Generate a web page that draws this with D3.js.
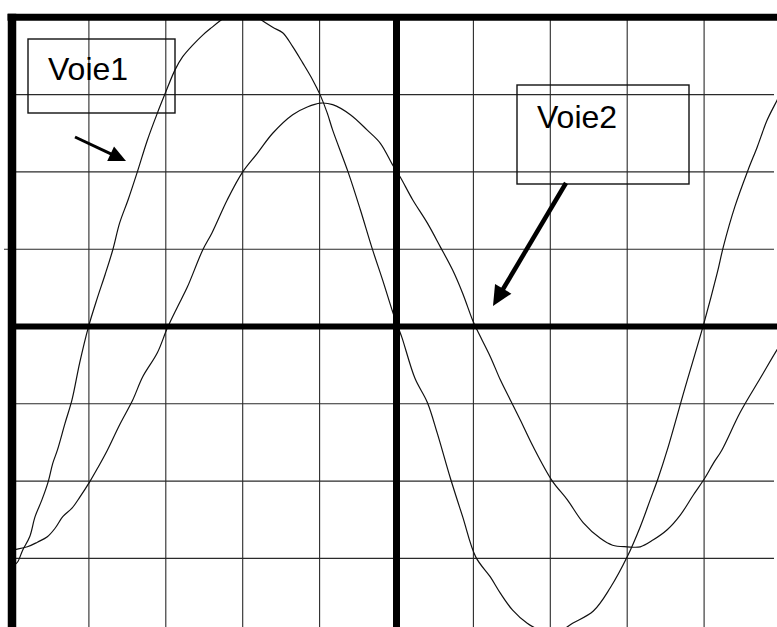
<!DOCTYPE html>
<html>
<head>
<meta charset="utf-8">
<script src="https://cdn.jsdelivr.net/npm/d3@7"></script>
<style>
  html, body { margin: 0; padding: 0; background: #fff; }
  svg { display: block; }
</style>
</head>
<body>
<svg id="scope" width="777" height="627"></svg>
<script>
// Oscilloscope screen: time and voltage both expressed in divisions.
const timeDivs = [0, 1, 2, 3, 4, 5, 6, 7, 8, 9, 10];
const voltDivs = [-4, -3, -2, -1, 0, 1, 2, 3, 4];

// Channel 1 trace (t in div, v in div)
const voie1T = [0, 0.07, 0.14, 0.23, 0.30, 0.39, 0.47, 0.53, 0.59, 0.69, 0.78, 0.88, 0.99, 1.11, 1.21, 1.31, 1.40, 1.51, 1.63, 1.76, 1.89, 1.99, 2.12, 2.22, 2.35, 2.48, 2.60, 2.74, 2.86, 2.99, 3.11, 3.22, 3.39, 3.52, 3.65, 3.78, 3.91, 4.01, 4.10, 4.17, 4.37, 4.53, 4.68, 4.82, 4.95, 5.01, 5.07, 5.24, 5.40, 5.53, 5.70, 5.86, 6.03, 6.22, 6.35, 6.51, 6.70, 6.87, 7.01, 7.15, 7.29, 7.56, 7.78, 8.00, 8.17, 8.30, 8.40, 8.52, 8.75, 9.00, 9.17, 9.25, 9.40, 9.57, 9.69, 9.82, 9.95, 9.99];
const voie1V = [-3.11, -3.05, -2.89, -2.72, -2.46, -2.24, -2.01, -1.77, -1.60, -1.25, -0.95, -0.47, -0.02, 0.37, 0.67, 0.99, 1.34, 1.64, 2.00, 2.41, 2.76, 3.01, 3.32, 3.49, 3.64, 3.77, 3.87, 3.98, 4.07, 4.11, 4.07, 3.98, 3.87, 3.80, 3.62, 3.41, 3.19, 2.99, 2.76, 2.54, 2.00, 1.51, 1.02, 0.60, 0.19, 0.02, -0.14, -0.67, -0.98, -1.38, -1.96, -2.46, -2.98, -3.24, -3.45, -3.67, -3.84, -3.93, -3.97, -3.93, -3.84, -3.68, -3.38, -2.98, -2.59, -2.24, -1.97, -1.60, -0.80, 0.05, 0.69, 1.03, 1.55, 2.02, 2.32, 2.67, 2.93, 3.02];

// Channel 2 trace (t in div, v in div)
const voie2T = [0, 0.07, 0.20, 0.33, 0.46, 0.56, 0.66, 0.78, 0.88, 1.01, 1.12, 1.24, 1.40, 1.57, 1.70, 1.89, 2.02, 2.15, 2.28, 2.48, 2.60, 2.80, 3.00, 3.19, 3.39, 3.65, 3.84, 4.01, 4.17, 4.40, 4.62, 4.79, 4.95, 5.05, 5.21, 5.40, 5.57, 5.73, 5.86, 5.99, 6.05, 6.22, 6.35, 6.48, 6.61, 6.78, 7.02, 7.22, 7.43, 7.65, 7.81, 8.00, 8.17, 8.34, 8.52, 8.69, 8.86, 9.01, 9.12, 9.23, 9.47, 9.73, 9.95, 9.99];
const voie2V = [-2.89, -2.88, -2.85, -2.79, -2.72, -2.61, -2.46, -2.35, -2.21, -2.01, -1.82, -1.60, -1.27, -0.95, -0.65, -0.34, -0.02, 0.25, 0.51, 0.99, 1.21, 1.64, 2.00, 2.24, 2.50, 2.74, 2.84, 2.89, 2.87, 2.74, 2.54, 2.37, 2.09, 1.93, 1.64, 1.34, 1.03, 0.73, 0.43, 0.08, -0.05, -0.39, -0.69, -0.95, -1.21, -1.56, -1.99, -2.24, -2.54, -2.74, -2.83, -2.85, -2.85, -2.76, -2.63, -2.44, -2.18, -1.96, -1.77, -1.60, -1.11, -0.67, -0.30, -0.24];

// Channel labels
const channelNames = ["Voie1", "Voie2"];

const W = 777, H = 627;
const svg = d3.select("#scope");

const x = d3.scaleLinear().domain([0, 10]).range([12, 781]);
const y = d3.scaleLinear().domain([-4, 4]).range([635.7, 17.3]);

const ink = "#111";

// thin graticule
const grid = svg.append("g").attr("stroke", "#2a2a2a").attr("stroke-width", 1.1);
grid.selectAll("line.v")
  .data(timeDivs.filter(d => d !== 0 && d !== 5))
  .join("line")
  .attr("x1", d => x(d)).attr("x2", d => x(d))
  .attr("y1", y(4)).attr("y2", H);
grid.selectAll("line.h")
  .data(voltDivs.filter(d => d !== 0 && d !== 4))
  .join("line")
  .attr("x1", d => d === 1 ? 4 : x(0)).attr("x2", 774)
  .attr("y1", d => y(d)).attr("y2", d => y(d));

// traces, clipped to the screen area
svg.append("clipPath").attr("id", "screen")
  .append("rect")
  .attr("x", x(0)).attr("y", y(4))
  .attr("width", W - x(0)).attr("height", H - y(4));

const line = d3.line()
  .x(d => x(d[0]))
  .y(d => y(d[1]))
  .curve(d3.curveCatmullRom.alpha(0.5));

const traces = [d3.zip(voie1T, voie1V), d3.zip(voie2T, voie2V)];
svg.append("g").attr("clip-path", "url(#screen)")
  .selectAll("path")
  .data(traces)
  .join("path")
  .attr("d", line)
  .attr("fill", "none")
  .attr("stroke", ink)
  .attr("stroke-width", 1.2)
  .attr("stroke-linejoin", "round");

// heavy border and centre axes
const heavy = svg.append("g").attr("stroke", "#000");
heavy.append("line") // top border
  .attr("x1", 7.5).attr("x2", W).attr("y1", y(4)).attr("y2", y(4))
  .attr("stroke-width", 7);
heavy.append("line") // left border
  .attr("x1", x(0)).attr("x2", x(0)).attr("y1", 13.8).attr("y2", H)
  .attr("stroke-width", 8.5);
heavy.append("line") // vertical centre axis
  .attr("x1", x(5)).attr("x2", x(5)).attr("y1", y(4)).attr("y2", H)
  .attr("stroke-width", 7);
heavy.append("line") // horizontal centre axis
  .attr("x1", x(0)).attr("x2", W).attr("y1", y(0)).attr("y2", y(0))
  .attr("stroke-width", 6);

// channel labels with pointer arrows
const labels = [
  { name: channelNames[0], box: [28, 39, 147, 74], text: [48, 80], arrow: [75, 137, 126, 161], lw: 3, head: 17, half: 8 },
  { name: channelNames[1], box: [517, 85, 172, 99], text: [537, 128], arrow: [566, 183, 493, 306], lw: 4.5, head: 20, half: 9.5 }
];

const lab = svg.append("g");
labels.forEach(l => {
  lab.append("rect")
    .attr("x", l.box[0]).attr("y", l.box[1])
    .attr("width", l.box[2]).attr("height", l.box[3])
    .attr("fill", "none").attr("stroke", ink).attr("stroke-width", 1.4);
  lab.append("text")
    .attr("x", l.text[0]).attr("y", l.text[1])
    .attr("font-family", "'Liberation Sans', Arial, sans-serif")
    .attr("font-size", 32)
    .attr("fill", "#000")
    .text(l.name);
  const [x1, y1, x2, y2] = l.arrow;
  const dx = x2 - x1, dy = y2 - y1, len = Math.hypot(dx, dy);
  const ux = dx / len, uy = dy / len;
  const bx = x2 - ux * l.head, by = y2 - uy * l.head;
  lab.append("line")
    .attr("x1", x1).attr("y1", y1)
    .attr("x2", bx + ux * 2).attr("y2", by + uy * 2)
    .attr("stroke", "#000").attr("stroke-width", l.lw).attr("stroke-linecap", "butt");
  lab.append("polygon")
    .attr("points", [
      [x2, y2],
      [bx - uy * l.half, by + ux * l.half],
      [bx + uy * l.half, by - ux * l.half]
    ].map(p => p.join(",")).join(" "))
    .attr("fill", "#000");
});
</script>
</body>
</html>
